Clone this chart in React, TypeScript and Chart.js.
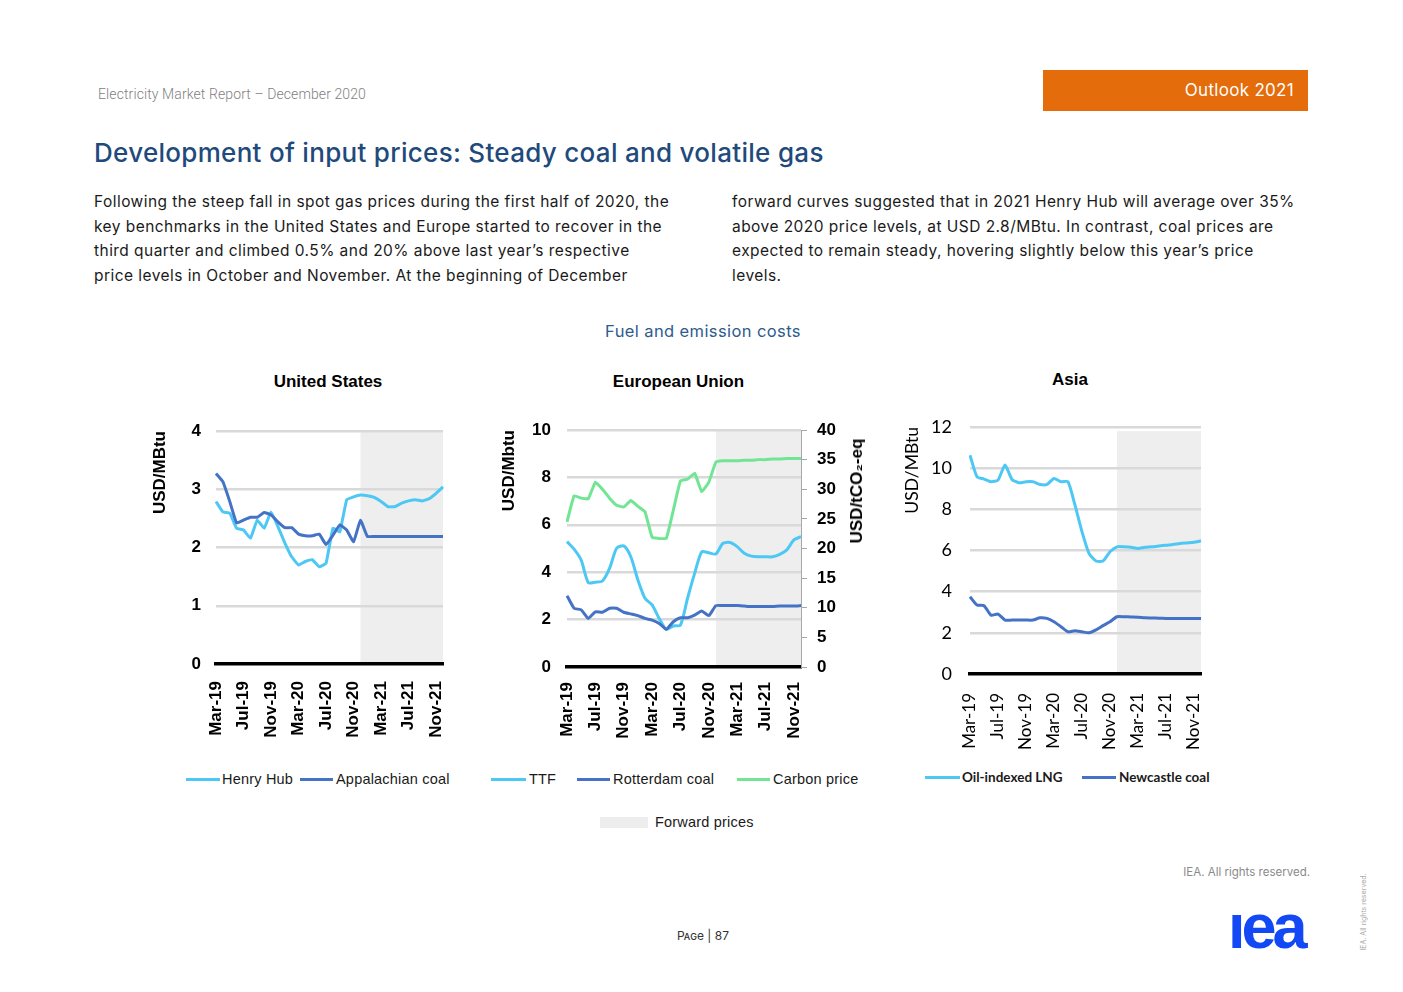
import React, { useEffect, useRef } from 'react';
import { Chart, registerables } from 'chart.js';

Chart.register(...registerables);

// ---------- data ----------
const months = [
  'Mar-19', 'Apr-19', 'May-19', 'Jun-19', 'Jul-19', 'Aug-19', 'Sep-19', 'Oct-19', 'Nov-19', 'Dec-19',
  'Jan-20', 'Feb-20', 'Mar-20', 'Apr-20', 'May-20', 'Jun-20', 'Jul-20', 'Aug-20', 'Sep-20', 'Oct-20', 'Nov-20', 'Dec-20',
  'Jan-21', 'Feb-21', 'Mar-21', 'Apr-21', 'May-21', 'Jun-21', 'Jul-21', 'Aug-21', 'Sep-21', 'Oct-21', 'Nov-21', 'Dec-21',
];
const forwardStart = 'Dec-20';

const henryHub = [
  2.79, 2.61, 2.59, 2.33, 2.30, 2.16, 2.47, 2.33, 2.61, 2.36, 2.08, 1.84, 1.70, 1.76, 1.79, 1.67, 1.73, 2.33, 2.27, 2.82, 2.87, 2.90,
  2.89, 2.86, 2.79, 2.70, 2.70, 2.76, 2.80, 2.82, 2.80, 2.84, 2.93, 3.04,
];
const appalachianCoal = [
  3.27, 3.13, 2.79, 2.42, 2.47, 2.52, 2.52, 2.60, 2.56, 2.44, 2.34, 2.34, 2.23, 2.20, 2.20, 2.23, 2.05, 2.21, 2.39, 2.30, 2.10, 2.47,
  2.19, 2.19, 2.19, 2.19, 2.19, 2.19, 2.19, 2.19, 2.19, 2.19, 2.19, 2.19,
];
const ttf = [
  5.29, 4.97, 4.51, 3.56, 3.58, 3.63, 4.16, 5.01, 5.11, 4.65, 3.67, 2.90, 2.62, 2.05, 1.59, 1.73, 1.77, 2.90, 3.95, 4.86, 4.82, 4.77,
  5.22, 5.25, 5.08, 4.80, 4.68, 4.65, 4.65, 4.65, 4.75, 4.94, 5.36, 5.50,
];
const rotterdamCoal = [
  3.01, 2.48, 2.41, 2.05, 2.33, 2.31, 2.48, 2.48, 2.31, 2.24, 2.17, 2.05, 1.98, 1.84, 1.59, 1.91, 2.08, 2.08, 2.19, 2.36, 2.17, 2.59,
  2.59, 2.59, 2.59, 2.57, 2.55, 2.55, 2.55, 2.55, 2.57, 2.57, 2.57, 2.59,
];
const carbonPrice = [
  24.5, 28.9, 28.5, 28.4, 31.2, 30.0, 28.5, 27.3, 27.0, 28.1, 27.1, 26.2, 21.9, 21.7, 21.7, 26.5, 31.4, 31.7, 32.7, 29.6, 31.2, 34.6,
  34.8, 34.8, 34.8, 34.9, 34.9, 35.0, 35.0, 35.1, 35.1, 35.2, 35.2, 35.2,
];
const oilIndexedLng = [
  10.63, 9.58, 9.47, 9.34, 9.42, 10.15, 9.45, 9.29, 9.34, 9.34, 9.21, 9.21, 9.50, 9.34, 9.34, 8.20, 6.91, 5.86, 5.49, 5.49, 5.94, 6.18,
  6.18, 6.16, 6.10, 6.16, 6.18, 6.22, 6.26, 6.29, 6.34, 6.37, 6.40, 6.47,
];
const newcastleCoal = [
  3.75, 3.35, 3.32, 2.86, 2.91, 2.62, 2.62, 2.62, 2.62, 2.62, 2.73, 2.70, 2.54, 2.30, 2.05, 2.10, 2.05, 2.00, 2.14, 2.35, 2.54, 2.78,
  2.78, 2.77, 2.76, 2.73, 2.72, 2.71, 2.70, 2.70, 2.70, 2.70, 2.70, 2.70,
];

const usSeries = ['Henry Hub', 'Appalachian coal'];
const euSeries = ['TTF', 'Rotterdam coal', 'Carbon price'];
const asiaSeries = ['Oil-indexed LNG', 'Newcastle coal'];

// ---------- styles ----------
const LIGHT = '#4DC8F5';
const DARK = '#4472C4';
const GREEN = '#71E594';
const SHADE = '#EEEEEE';
const GRID = '#D9D9D9';
const ARIAL = "'Liberation Sans', Arial, sans-serif";
const CALIBRI = "Lato, 'Open Sans', sans-serif";
const BODY = "Inter, 'Noto Sans', sans-serif";
const HEAD = "Roboto, 'Noto Sans', sans-serif";

function shadePlugin(topValue: number) {
  return {
    id: 'forwardShade',
    beforeDraw(chart: any) {
      const { ctx, chartArea, scales } = chart;
      const x0 = scales.x.getPixelForValue(months.indexOf(forwardStart));
      const yTop = scales.y.getPixelForValue(topValue);
      const yBot = scales.y.getPixelForValue(0);
      ctx.save();
      ctx.fillStyle = SHADE;
      ctx.fillRect(x0, yTop, chartArea.right - x0, yBot - yTop);
      ctx.restore();
    },
  };
}

function lineDs(label: string, data: number[], color: string, axis = 'y', tension = 0.2) {
  return {
    label,
    data,
    borderColor: color,
    backgroundColor: color,
    borderWidth: 3,
    pointRadius: 0,
    pointHoverRadius: 0,
    tension,
    fill: false,
    yAxisID: axis,
  };
}

function xScale(font: any, padding: number, height: number) {
  return {
    type: 'category',
    grid: { display: false, drawTicks: false },
    border: { display: true, color: '#000', width: 3.5 },
    ticks: {
      autoSkip: false,
      minRotation: 90,
      maxRotation: 90,
      padding,
      color: '#000',
      font,
      callback: (_v: any, i: number) => (i % 4 === 0 ? months[i] : ''),
    },
    afterFit: (s: any) => {
      s.height = height;
      s.paddingLeft = 0;
      s.paddingRight = 0;
    },
  };
}

function yScale(max: number, step: number, title: string, titleFont: any, tickFont: any, tickPad: number, titlePad: number, width: number) {
  return {
    type: 'linear',
    position: 'left',
    min: 0,
    max,
    ticks: { stepSize: step, padding: tickPad, color: '#000', font: tickFont },
    grid: {
      color: (c: any) => (c.tick && c.tick.value === 0 ? 'rgba(0,0,0,0)' : GRID),
      lineWidth: 2.5,
      drawTicks: false,
    },
    border: { display: false },
    title: { display: true, align: 'end', text: title, color: '#000', font: titleFont, padding: { top: titlePad, bottom: 0 } },
    afterFit: (s: any) => {
      s.width = width;
    },
  };
}

const arialBold = { family: ARIAL, size: 17, weight: 'bold', lineHeight: 1 };
const calibriTick = { family: CALIBRI, size: 17, weight: 'normal', lineHeight: 1 };

function commonOptions(padding: any, scales: any) {
  return {
    responsive: true,
    maintainAspectRatio: false,
    animation: false,
    layout: { padding },
    plugins: { legend: { display: false }, title: { display: false }, tooltip: { enabled: false } },
    scales,
  };
}

function usConfig(): any {
  return {
    type: 'line',
    data: {
      labels: months,
      datasets: [lineDs(usSeries[1], appalachianCoal, DARK, 'y', 0.1), lineDs(usSeries[0], henryHub, LIGHT, 'y', 0.1)],
    },
    options: commonOptions(
      { top: 71, right: 17, left: 0, bottom: 0 },
      {
        x: xScale(arialBold, 17, 96),
        y: yScale(4, 1, 'USD/MBtu', arialBold, arialBold, 15, 11.5, 76),
      }
    ),
    plugins: [shadePlugin(4)],
  };
}

function euConfig(): any {
  return {
    type: 'line',
    data: {
      labels: months,
      datasets: [
        lineDs(euSeries[1], rotterdamCoal, DARK, 'y', 0.15),
        lineDs(euSeries[0], ttf, LIGHT, 'y', 0.25),
        lineDs(euSeries[2], carbonPrice, GREEN, 'y2', 0.1),
      ],
    },
    options: commonOptions(
      { top: 70, right: 0, left: 0, bottom: 0 },
      {
        x: xScale(arialBold, 15, 93),
        y: yScale(10, 2, 'USD/Mbtu', arialBold, arialBold, 16, 10.5, 77),
        y2: {
          type: 'linear',
          position: 'right',
          min: 0,
          max: 40,
          ticks: { stepSize: 5, padding: 10, color: '#000', font: arialBold },
          grid: { drawOnChartArea: false, drawTicks: true, tickLength: 6, color: '#A6A6A6', lineWidth: 1 },
          border: { display: true, color: '#A6A6A6', width: 1 },
          afterFit: (s: any) => {
            s.width = 79;
          },
        },
      }
    ),
    plugins: [shadePlugin(10)],
  };
}

function asiaConfig(): any {
  return {
    type: 'line',
    data: {
      labels: months,
      datasets: [lineDs(asiaSeries[1], newcastleCoal, DARK, 'y', 0.2), lineDs(asiaSeries[0], oilIndexedLng, LIGHT, 'y', 0.2)],
    },
    options: commonOptions(
      { top: 67, right: 14, left: 0, bottom: 0 },
      {
        x: xScale(calibriTick, 19, 86),
        y: yScale(12, 2, 'USD/MBtu', { family: CALIBRI, size: 17.5, weight: 'normal', lineHeight: 1 }, { family: CALIBRI, size: 18, weight: 'normal', lineHeight: 1 }, 18, 8.25, 75),
      }
    ),
    plugins: [shadePlugin(11.8)],
  };
}

function ChartBox({ left, top, width, height, config }: any) {
  const ref = useRef<HTMLCanvasElement>(null);
  useEffect(() => {
    const chart = new Chart(ref.current as HTMLCanvasElement, config());
    return () => chart.destroy();
  }, []);
  return (
    <div style={{ position: 'absolute', left, top, width, height }}>
      <canvas ref={ref} />
    </div>
  );
}

function LegendItem({ x, y, color, label, font, lineWidth = 34, gap = 2 }: any) {
  return (
    <div style={{ position: 'absolute', left: x, top: y - 10, height: 20, display: 'flex', alignItems: 'center', whiteSpace: 'nowrap' }}>
      <div style={{ width: lineWidth, height: 3, background: color }} />
      <span style={{ marginLeft: gap, color: '#1a1a1a', ...font }}>{label}</span>
    </div>
  );
}

const abs = (left: number, top: number, extra: any = {}) => ({ position: 'absolute' as const, left, top, ...extra });

export default function App() {
  const legendFont = { fontFamily: ARIAL, fontSize: 14.5, letterSpacing: 0.2 };
  const asiaLegendFont = { fontFamily: CALIBRI, fontSize: 13.5, fontWeight: 700 };
  const paraStyle = {
    fontFamily: BODY,
    fontSize: 15.5,
    lineHeight: '24.7px',
    letterSpacing: 0.45,
    color: '#1a1a1a',
    whiteSpace: 'pre' as const,
  };
  const chartTitle = { fontFamily: ARIAL, fontSize: 17, fontWeight: 700, color: '#000', transform: 'translate(-50%, -50%)', whiteSpace: 'nowrap' as const };
  return (
    <div style={{ position: 'absolute', left: 0, top: 0, width: 1403, height: 992, background: '#fff', overflow: 'hidden' }}>
      {/* header */}
      <div style={abs(98, 86, { fontFamily: HEAD, fontWeight: 300, fontSize: 14, lineHeight: '16px', letterSpacing: 0.1, color: '#7f7f7f', whiteSpace: 'nowrap' })}>
        Electricity Market Report – December 2020
      </div>
      <div
        style={abs(1043, 70, {
          width: 265,
          height: 41,
          background: '#E46C0A',
          color: '#fff',
          fontFamily: BODY,
          fontSize: 17,
          lineHeight: '41px',
          textAlign: 'right',
          paddingRight: 14,
          boxSizing: 'border-box',
          letterSpacing: 0.3,
        })}
      >
        Outlook 2021
      </div>
      <div style={abs(94, 137, { fontFamily: BODY, fontWeight: 500, fontSize: 26, lineHeight: '32px', letterSpacing: 0.3, color: '#1F4A7C', whiteSpace: 'nowrap' })}>
        Development of input prices: Steady coal and volatile gas
      </div>
      <div style={abs(94, 190, paraStyle)}>
        {'Following the steep fall in spot gas prices during the first half of 2020, the\nkey benchmarks in the United States and Europe started to recover in the\nthird quarter and climbed 0.5% and 20% above last year’s respective\nprice levels in October and November. At the beginning of December'}
      </div>
      <div style={abs(732, 190, paraStyle)}>
        {'forward curves suggested that in 2021 Henry Hub will average over 35%\nabove 2020 price levels, at USD 2.8/MBtu. In contrast, coal prices are\nexpected to remain steady, hovering slightly below this year’s price\nlevels.'}
      </div>
      <div style={abs(703, 331, { fontFamily: BODY, fontSize: 16.5, color: '#2E5C8E', letterSpacing: 0.4, transform: 'translate(-50%, -50%)', whiteSpace: 'nowrap' })}>
        Fuel and emission costs
      </div>

      {/* chart titles */}
      <div style={abs(328, 382, chartTitle)}>United States</div>
      <div style={abs(678.5, 382, chartTitle)}>European Union</div>
      <div style={abs(1070, 380, chartTitle)}>Asia</div>

      {/* charts */}
      <ChartBox left={140} top={360} width={320} height={400} config={usConfig} />
      <ChartBox left={490} top={360} width={390} height={400} config={euConfig} />
      <ChartBox left={895} top={360} width={320} height={400} config={asiaConfig} />

      <div style={abs(857, 491, { fontFamily: ARIAL, fontSize: 17, fontWeight: 700, color: '#000', transform: 'translate(-50%, -50%) rotate(-90deg)', whiteSpace: 'nowrap' })}>
        USD/tCO₂-eq
      </div>

      {/* legends */}
      <LegendItem x={186} y={779} color={LIGHT} label={usSeries[0]} font={legendFont} />
      <LegendItem x={300} y={779} color={DARK} label={usSeries[1]} font={legendFont} lineWidth={33} gap={3} />
      <LegendItem x={491} y={779} color={LIGHT} label={euSeries[0]} font={legendFont} lineWidth={35} gap={3} />
      <LegendItem x={577} y={779} color={DARK} label={euSeries[1]} font={legendFont} lineWidth={33} gap={3} />
      <LegendItem x={737} y={779} color={GREEN} label={euSeries[2]} font={legendFont} lineWidth={33} gap={3} />
      <LegendItem x={925} y={777} color={LIGHT} label={asiaSeries[0]} font={asiaLegendFont} lineWidth={35} gap={2} />
      <LegendItem x={1082} y={777} color={DARK} label={asiaSeries[1]} font={asiaLegendFont} lineWidth={34} gap={3} />

      <div style={abs(600, 817, { width: 48, height: 11, background: '#EDEDED' })} />
      <div style={abs(655, 813, { fontFamily: ARIAL, fontSize: 14.5, lineHeight: '18px', color: '#1a1a1a', letterSpacing: 0.2, whiteSpace: 'nowrap' })}>
        Forward prices
      </div>

      {/* footer */}
      <div style={abs(1110, 864, { width: 200, textAlign: 'right', fontFamily: BODY, fontSize: 11.5, lineHeight: '16px', color: '#8a8a8a' })}>
        IEA. All rights reserved.
      </div>
      <div style={abs(703, 935, { fontFamily: BODY, fontSize: 12, color: '#333', transform: 'translate(-50%, -50%)', whiteSpace: 'nowrap' })}>
        <span style={{ fontVariant: 'small-caps' }}>Page</span> | 87
      </div>
      <div style={abs(1228, 914, { width: 84, height: 35, overflow: 'hidden' })}>
        <div
          style={{
            position: 'absolute',
            left: 0,
            top: -19.3,
            fontFamily: ARIAL,
            fontWeight: 700,
            fontSize: 63,
            lineHeight: '63px',
            letterSpacing: -4,
            color: '#1348F5',
            whiteSpace: 'nowrap',
          }}
        >
          iea
        </div>
      </div>
      <div style={abs(1363, 912, { fontFamily: BODY, fontSize: 7, color: '#aaa', transform: 'translate(-50%, -50%) rotate(-90deg)', whiteSpace: 'nowrap' })}>
        IEA. All rights reserved.
      </div>
    </div>
  );
}
